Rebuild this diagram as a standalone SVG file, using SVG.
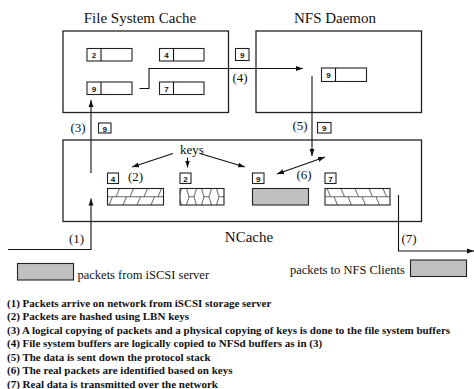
<svg xmlns="http://www.w3.org/2000/svg" width="474" height="389" viewBox="0 0 474 389">
<style>
.box{fill:none;stroke:#222;stroke-width:1.3}
.sb{fill:#fff;stroke:#222;stroke-width:1.1}
.ln{fill:none;stroke:#111;stroke-width:1.1}
.dg{font-family:"Liberation Sans",Arial,sans-serif;font-weight:bold;font-size:8px;fill:#111}
.tt{font-family:"Liberation Serif","Times New Roman",serif;font-size:15px;fill:#111}
.lb{font-family:"Liberation Serif","Times New Roman",serif;font-size:13px;fill:#111}
.lg{font-family:"Liberation Serif","Times New Roman",serif;font-size:12.5px;fill:#111}
.nt{font-family:"Liberation Serif","Times New Roman",serif;font-size:11px;font-weight:bold;fill:#111}
.grey{fill:#c0c0c0;stroke:#222;stroke-width:1.1}
</style>
<defs>
<marker id="ah" viewBox="0 0 10 10" refX="10" refY="5" markerWidth="7" markerHeight="7" markerUnits="userSpaceOnUse" orient="auto-start-reverse">
<path d="M0,1.5 L10,5 L0,8.5 z" fill="#111"/>
</marker>
<pattern id="hatchA" patternUnits="userSpaceOnUse" x="107" y="188.5" width="14" height="16.5">
<path d="M0,8.25 H14 M9,8.25 L12.5,0 M2,16.5 L5.5,8.25" stroke="#222" stroke-width="0.7" fill="none"/>
</pattern>
<pattern id="hatchB" patternUnits="userSpaceOnUse" x="325" y="188.5" width="14" height="16.5">
<path d="M0,8.25 H14 M2,0 L5.5,8.25 M9,8.25 L12.5,16.5" stroke="#222" stroke-width="0.7" fill="none"/>
</pattern>
<pattern id="hex" patternUnits="userSpaceOnUse" x="176" y="188.5" width="15" height="16.5">
<path d="M0,8.25 H3 L5.5,0 M3,8.25 L5.5,16.5 M10.5,0 L13,8.25 L10.5,16.5 M13,8.25 H15" stroke="#222" stroke-width="0.7" fill="none"/>
</pattern>
</defs>

<g id="fs-cache">
<text class="tt" x="140" y="22.5" text-anchor="middle">File System Cache</text>
<rect class="box" x="63" y="31" width="165.5" height="81.5"/>
<g id="fs-buf-2"><rect class="sb" x="87" y="48.5" width="45" height="12.5"/><line class="ln" x1="101" y1="48.5" x2="101" y2="61"/><text class="dg" x="94" y="58" text-anchor="middle">2</text></g>
<g id="fs-buf-4"><rect class="sb" x="159.5" y="48.5" width="44.5" height="12.5"/><line class="ln" x1="173.5" y1="48.5" x2="173.5" y2="61"/><text class="dg" x="166.5" y="58" text-anchor="middle">4</text></g>
<g id="fs-buf-9"><rect class="sb" x="87" y="82" width="45" height="12.5"/><line class="ln" x1="101" y1="82" x2="101" y2="94.5"/><text class="dg" x="94" y="91.5" text-anchor="middle">9</text></g>
<g id="fs-buf-7"><rect class="sb" x="159.5" y="82" width="44.5" height="12.5"/><line class="ln" x1="173.5" y1="82" x2="173.5" y2="94.5"/><text class="dg" x="166.5" y="91.5" text-anchor="middle">7</text></g>
</g>

<g id="nfs-daemon">
<text class="tt" x="335" y="22.5" text-anchor="middle">NFS Daemon</text>
<rect class="box" x="256" y="31" width="165.5" height="81.5"/>
<g id="nfs-buf-9"><rect class="sb" x="321.5" y="68" width="45" height="13.5"/><line class="ln" x1="335.5" y1="68" x2="335.5" y2="81.5"/><text class="dg" x="328.5" y="77.8" text-anchor="middle">9</text></g>
</g>

<g id="ncache">
<rect class="box" x="63" y="140" width="358.5" height="81.5"/>
<text class="tt" x="249" y="241.5" text-anchor="middle">NCache</text>
<text class="lb" x="180" y="153.5">keys</text>
<g id="nc-4"><rect class="sb" x="107.5" y="173" width="11" height="10.5"/><text class="dg" x="113" y="181.5" text-anchor="middle">4</text>
<rect x="107.5" y="188.5" width="56" height="16.5" fill="url(#hatchA)" stroke="#222" stroke-width="1.1"/></g>
<g id="nc-2"><rect class="sb" x="180" y="173" width="11" height="10.5"/><text class="dg" x="185.5" y="181.5" text-anchor="middle">2</text>
<rect x="180" y="188.5" width="44" height="16.5" fill="url(#hex)" stroke="#222" stroke-width="1.1"/></g>
<g id="nc-9"><rect class="sb" x="252.5" y="173" width="11.5" height="10.5"/><text class="dg" x="258.2" y="181.5" text-anchor="middle">9</text>
<rect class="grey" x="252.5" y="188.5" width="56" height="16.5"/></g>
<g id="nc-7"><rect class="sb" x="325" y="173" width="11" height="10.5"/><text class="dg" x="330.5" y="181.5" text-anchor="middle">7</text>
<rect x="325" y="188.5" width="65" height="16.5" fill="url(#hatchB)" stroke="#222" stroke-width="1.1"/></g>
</g>

<g id="connectors">
<path class="ln" d="M8,249.5 H91 V198.5" marker-end="url(#ah)"/>
<path class="ln" d="M91,173 V100" marker-end="url(#ah)"/>
<path class="ln" d="M139.5,88.5 H149 V68.5 H303" marker-end="url(#ah)"/>
<path class="ln" d="M312,76 V156" marker-end="url(#ah)"/>
<path class="ln" d="M173,153.5 L132,167" marker-end="url(#ah)"/>
<path class="ln" d="M187.5,157.5 V167.5" marker-end="url(#ah)"/>
<path class="ln" d="M200,153.5 L245,167" marker-end="url(#ah)"/>
<path class="ln" d="M277,174 L325,157" marker-start="url(#ah)" marker-end="url(#ah)"/>
<path class="ln" d="M398.5,195 V251 H474" marker-end="url(#ah)"/>
</g>

<g id="labels">
<text class="lb" x="69" y="242.5">(1)</text>
<text class="lb" x="128" y="181">(2)</text>
<text class="lb" x="70.5" y="131.5">(3)</text>
<text class="lb" x="232.5" y="81.5">(4)</text>
<text class="lb" x="292.5" y="130">(5)</text>
<text class="lb" x="296.5" y="178.5">(6)</text>
<text class="lb" x="401.5" y="242.5">(7)</text>
<g id="tok-mid"><rect class="sb" x="235.5" y="48.5" width="13.5" height="12"/><text class="dg" x="242.2" y="58" text-anchor="middle">9</text></g>
<g id="tok-3"><rect class="sb" x="98.5" y="123" width="12.5" height="10"/><text class="dg" x="104.7" y="131.5" text-anchor="middle">9</text></g>
<g id="tok-5"><rect class="sb" x="317.5" y="122.5" width="13.5" height="10.5"/><text class="dg" x="324.2" y="131" text-anchor="middle">9</text></g>
</g>

<g id="legend">
<rect class="grey" x="17.5" y="263.5" width="56" height="16.5"/>
<text class="lg" x="77.5" y="278.5">packets from iSCSI server</text>
<text class="lg" x="290" y="274">packets to NFS Clients</text>
<rect class="grey" x="410.5" y="260" width="56" height="16.5"/>
</g>

<g id="notes">
<text class="nt" x="7" y="306.5">(1) Packets arrive on network from iSCSI storage server</text>
<text class="nt" x="7" y="320">(2) Packets are hashed using LBN keys</text>
<text class="nt" x="7" y="333.5">(3) A logical copying of packets and a physical copying of keys is done to the file system buffers</text>
<text class="nt" x="7" y="347">(4) File system buffers are logically copied to NFSd buffers as in (3)</text>
<text class="nt" x="7" y="360.5">(5) The data is sent down the protocol stack</text>
<text class="nt" x="7" y="374">(6) The real packets are identified based on keys</text>
<text class="nt" x="7" y="387.5">(7) Real data is transmitted over the network</text>
</g>
</svg>
